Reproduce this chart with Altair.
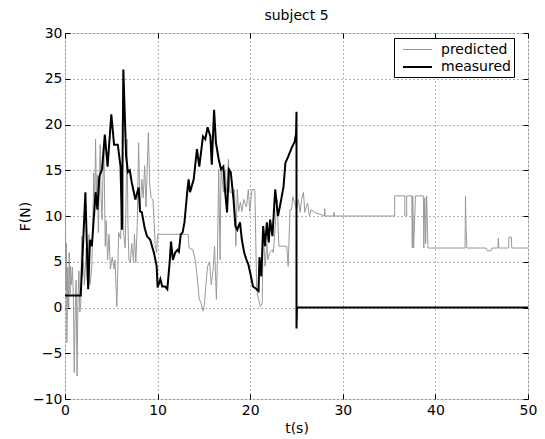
import altair as alt
import pandas as pd

series_names = ["predicted", "measured"]
series_colors = ["#999999", "#000000"]
series_widths = [1.0, 2.0]

x_ticks = [0, 10, 20, 30, 40, 50]
y_ticks = [-10, -5, 0, 5, 10, 15, 20, 25, 30]

# (t, F) samples
measured_points = [
    (0, 1.3), (1.7, 1.3), (2.2, 12.6), (2.5, 2.0), (2.7, 7.4), (2.9, 6.7), (3.3, 12.6),
    (3.5, 10.7), (3.7, 14.3), (4.0, 15.1), (4.3, 18.9), (4.6, 15.4), (5.0, 21.1),
    (5.3, 17.8), (5.7, 17.8), (6.0, 15.4), (6.15, 8.5), (6.3, 26.0), (6.6, 16.5),
    (6.8, 14.8), (7.0, 15.0), (7.2, 13.7), (7.6, 11.8), (7.95, 13.1), (8.1, 10.5),
    (8.3, 10.4), (8.6, 8.7), (8.85, 7.8), (9.2, 7.4), (9.6, 6.0), (9.9, 4.5), (10.0, 2.2),
    (10.3, 3.1), (10.5, 2.3), (10.8, 2.3), (11.05, 2.0), (11.3, 4.9), (11.45, 7.2),
    (11.65, 5.2), (11.9, 6.0), (12.15, 6.3), (12.3, 6.1), (12.5, 8.0), (12.7, 8.2),
    (12.9, 9.3), (13.2, 12.6), (13.35, 14.0), (13.5, 12.6), (13.9, 14.0), (14.25, 17.3),
    (14.5, 15.4), (14.9, 18.7), (15.15, 18.4), (15.4, 19.7), (15.7, 18.7), (15.85, 15.6),
    (16.1, 21.6), (16.3, 18.0), (16.6, 16.2), (16.85, 15.1), (17.1, 15.4), (17.3, 12.6),
    (17.5, 10.4), (17.7, 15.1), (17.9, 14.8), (18.2, 11.8), (18.4, 8.9), (18.6, 8.5),
    (18.9, 9.3), (19.1, 7.4), (19.35, 6.0), (19.6, 5.2), (19.8, 4.7), (20.0, 3.8),
    (20.3, 2.3), (20.7, 2.0), (20.9, 1.8), (21.0, 5.5), (21.2, 3.4), (21.4, 8.9),
    (21.6, 6.7), (21.8, 9.3), (22.0, 7.1), (22.15, 9.6), (22.4, 7.8), (22.7, 12.9),
    (23.0, 10.0), (23.2, 11.0), (23.6, 13.2), (23.8, 15.8), (24.1, 16.5), (24.5, 17.5),
    (24.8, 18.1), (24.95, 19.0), (25.0, 21.4), (25.0, -2.3), (25.05, 0.0), (50.0, 0.0),
]

predicted_points = [
    (0.0, 4.0), (0.05, 10.3), (0.1, 2.0), (0.15, 7.0), (0.2, -3.8), (0.3, 4.4), (0.4, 0.0),
    (0.45, 6.0), (0.55, 1.5), (0.6, 4.5), (0.7, 2.5), (0.8, 4.4), (0.9, 1.3), (1.0, -7.1),
    (1.1, -0.5), (1.2, 3.0), (1.3, -7.5), (1.4, 0.9), (1.5, 4.0), (1.6, -0.5), (1.7, 0.4),
    (1.8, 7.8), (1.9, 3.4), (2.0, 5.0), (2.1, 2.5), (2.3, 6.5), (2.4, 3.0), (2.6, 8.0),
    (2.7, 2.5), (2.9, 4.5), (3.0, 9.0), (3.1, 14.7), (3.2, 10.0), (3.3, 18.4), (3.4, 12.0),
    (3.5, 14.5), (3.6, 8.2), (3.8, 17.8), (3.9, 12.0), (4.0, 9.6), (4.1, 14.0), (4.2, 17.6),
    (4.35, 6.7), (4.45, 9.5), (4.6, 5.2), (4.75, 8.0), (4.9, 4.2), (5.1, 5.5), (5.3, 4.2),
    (5.4, 5.2), (5.6, 0.1), (5.8, 8.2), (6.0, 7.5), (6.2, 15.1), (6.35, 8.0), (6.5, 6.5),
    (6.7, 18.4), (6.8, 9.0), (6.9, 5.2), (7.05, 4.9), (7.2, 7.0), (7.4, 5.0), (7.5, 8.0),
    (7.65, 4.9), (7.8, 9.0), (7.95, 18.0), (8.1, 10.5), (8.3, 14.0), (8.45, 12.0),
    (8.6, 15.5), (8.75, 11.0), (9.0, 19.1), (9.15, 13.5), (9.3, 12.0), (9.5, 11.8),
    (9.75, 6.7), (9.9, 6.0), (10.0, 8.0), (13.3, 8.0), (13.4, 6.5), (13.8, 6.3),
    (14.1, 5.0), (14.3, 3.1), (14.5, 0.9), (14.7, 0.5), (14.9, -0.4), (15.05, 0.3),
    (15.2, 2.3), (15.4, 4.5), (15.6, 5.0), (15.8, 2.5), (16.0, 4.2), (16.15, 6.7),
    (16.35, 0.9), (16.45, 5.0), (16.6, 15.1), (16.75, 5.2), (16.85, 15.4), (17.1, 12.6),
    (17.3, 15.0), (17.45, 12.6), (17.65, 16.2), (17.8, 12.6), (18.0, 12.6), (18.3, 12.9),
    (18.45, 6.7), (18.6, 12.9), (18.75, 10.5), (18.95, 11.5), (19.1, 10.5), (19.3, 11.8),
    (19.6, 11.0), (19.8, 12.9), (19.95, 10.5), (20.2, 12.9), (20.5, 12.9), (20.7, 2.0),
    (20.9, 0.9), (21.1, 0.1), (21.3, 0.5), (21.4, 8.9), (21.6, 4.5), (21.8, 7.0),
    (21.9, 5.2), (22.1, 6.0), (22.4, 6.3), (22.5, 6.0), (22.9, 11.8), (23.1, 6.7),
    (23.5, 6.7), (23.95, 6.7), (24.1, 4.5), (24.3, 10.7), (24.45, 10.7), (24.6, 12.1),
    (24.8, 11.4), (25.0, 10.7), (25.2, 11.8), (25.4, 10.4), (25.55, 11.8), (25.75, 12.6),
    (25.9, 10.4), (26.05, 11.0), (26.2, 11.4), (26.4, 10.0), (26.6, 10.7), (26.9, 10.4),
    (27.2, 10.3), (27.5, 10.2), (28.0, 10.0), (28.05, 10.8), (28.1, 10.0), (29.0, 10.0),
    (29.05, 10.4), (29.1, 10.0), (35.6, 10.0), (35.6, 12.2), (36.7, 12.2), (36.7, 10.0),
    (36.9, 10.0), (36.9, 12.2), (37.45, 12.2), (37.5, 6.5), (37.55, 12.2), (37.65, 6.5),
    (37.85, 12.2), (38.7, 12.2), (38.75, 6.5), (38.85, 12.0), (38.95, 7.0), (39.05, 12.2),
    (39.2, 6.5), (43.2, 6.5), (43.25, 12.2), (43.3, 9.0), (43.4, 6.5), (45.5, 6.5),
    (45.6, 6.2), (46.0, 6.2), (46.1, 6.5), (46.75, 6.5), (46.8, 7.6), (46.85, 6.5),
    (47.9, 6.5), (47.95, 7.7), (48.2, 7.7), (48.25, 6.5), (50.0, 6.5),
]

pred = pd.DataFrame(predicted_points, columns=["t", "F"])
pred["series"] = series_names[0]
pred["i"] = range(len(pred))
meas = pd.DataFrame(measured_points, columns=["t", "F"])
meas["series"] = series_names[1]
meas["i"] = range(len(meas))

FONT = "DejaVu Sans"
xscale = alt.Scale(domain=[0, 50], nice=False, zero=False)
yscale = alt.Scale(domain=[-10, 30], nice=False, zero=False)
cscale = alt.Scale(domain=series_names, range=series_colors)
wscale = alt.Scale(domain=series_names, range=series_widths)

common_axis = dict(offset=-5, tickSize=5, tickColor="black", tickWidth=1, domain=False,
                   labelFont=FONT, labelFontSize=14, labelColor="black", labelFlush=False,
                   titleFont=FONT, titleFontSize=14, titleFontWeight="normal",
                   titleColor="black")

x_bottom = alt.Axis(orient="bottom", values=x_ticks, format="d", grid=True,
                    gridColor="black", gridDash=[1, 3], gridOpacity=0.6, gridWidth=1,
                    labelPadding=4, title="t(s)", titleY=38, titleBaseline="alphabetic",
                    **common_axis)
y_left = alt.Axis(orient="left", values=y_ticks, format="d", grid=True,
                  gridColor="black", gridDash=[1, 3], gridOpacity=0.6, gridWidth=1,
                  labelPadding=3, title="F(N)", titleX=-38, titleBaseline="bottom",
                  titleAngle=270, **common_axis)
x_top = alt.Axis(orient="top", values=x_ticks, grid=False, labels=False, title=None,
                 **common_axis)
y_right = alt.Axis(orient="right", values=y_ticks, grid=False, labels=False, title=None,
                   **common_axis)

legend = alt.Legend(title=None, orient="none", legendX=329, legendY=5,
                    strokeColor="black", fillColor="white", padding=3, cornerRadius=0,
                    labelFont=FONT, labelFontSize=14, labelColor="black", labelOffset=14.5,
                    symbolType="M-1.81,0H1.81", symbolSize=256, symbolOffset=11.5,
                    rowPadding=1)

grey = alt.Chart(pred).mark_line(strokeJoin="miter", clip=True).encode(
    x=alt.X("t:Q", scale=xscale, axis=x_bottom),
    y=alt.Y("F:Q", scale=yscale, axis=y_left),
    color=alt.Color("series:N", scale=cscale, legend=legend),
    strokeWidth=alt.StrokeWidth("series:N", scale=wscale, legend=legend),
    order=alt.Order("i:Q"),
)
black = alt.Chart(meas).mark_line(strokeJoin="miter", clip=True).encode(
    x=alt.X("t:Q", scale=xscale, axis=x_top),
    y=alt.Y("F:Q", scale=yscale, axis=y_right),
    color=alt.Color("series:N", scale=cscale, legend=legend),
    strokeWidth=alt.StrokeWidth("series:N", scale=wscale, legend=legend),
    order=alt.Order("i:Q"),
)

chart = alt.layer(grey, black).resolve_axis(x="independent", y="independent").properties(
    width=463, height=366,
    autosize=alt.AutoSizeParams(type="none"),
    padding={"left": 57, "top": 25, "right": 9, "bottom": 40},
    title=alt.TitleParams("subject 5", font=FONT, fontSize=14, fontWeight="normal",
                          color="black", anchor="middle", frame="group", offset=3),
).configure_view(stroke="black", strokeWidth=1).configure(background="white")

chart.save("out.html", embed_options={"renderer": "svg", "actions": False})
